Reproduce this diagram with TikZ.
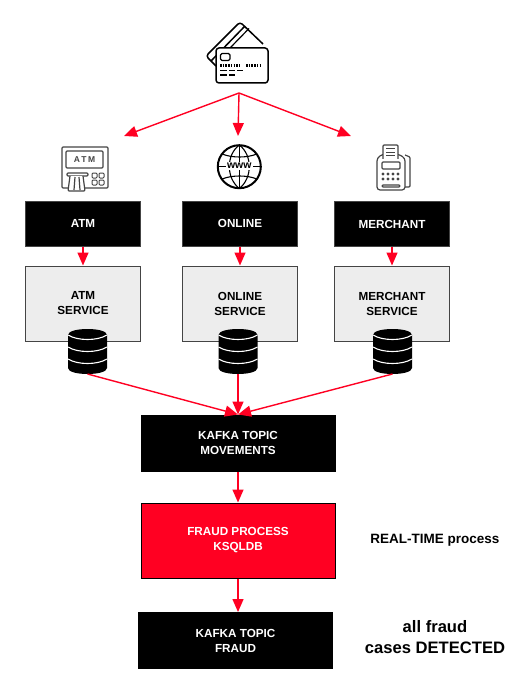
\documentclass[tikz,border=0pt]{standalone}
\usepackage{fontspec}
\setmainfont{Liberation Sans}
\usepackage{xcolor}
\usetikzlibrary{arrows.meta}
\definecolor{alertred}{HTML}{FF0022}
\definecolor{panelgray}{HTML}{EDEDED}
\definecolor{edgegray}{HTML}{444444}
\tikzstyle{source} = [rectangle, draw=edgegray, fill=black, text=white, text centered, line width=1pt, minimum width=115pt, minimum height=45pt, font=\fontsize{11.7}{15}\selectfont\bfseries]
\tikzstyle{service} = [rectangle, draw=edgegray, fill=panelgray, text=black, text centered, align=center, line width=1pt, minimum width=115pt, minimum height=75pt, font=\fontsize{11.7}{15}\selectfont\bfseries]
\tikzstyle{topic} = [rectangle, draw=black, fill=black, text=white, text centered, align=center, line width=1pt, minimum width=194pt, minimum height=56pt, font=\fontsize{11.7}{15}\selectfont\bfseries]
\tikzstyle{fraud} = [topic, fill=alertred, minimum height=75pt]
\tikzstyle{line} = [draw=alertred, line width=1.4pt, -{Triangle[length=13pt,width=11pt]}]
\tikzstyle{icon} = [draw=black, line width=1.5pt, line join=round, rounded corners=1.5pt]
\tikzstyle{grayicon} = [draw=edgegray, line width=1.2pt, line join=round, rounded corners=1pt]
\newcommand{\dbstack}[2]{%
\begin{scope}[shift={(#1,329)}]
\fill [black] (-19.5,6) .. controls (-19.5,-2) and (19.5,-2) .. (19.5,6) -- (19.5,39) .. controls (19.5,47) and (-19.5,47) .. (-19.5,39) -- cycle;
\foreach \y in {6,18,30}
\draw [white, line width=1.1pt] (-19.5,\y) .. controls (-10,\y+6) and (10,\y+6) .. (19.5,\y);
\coordinate (#2) at (0,45);
\end{scope}}

\begin{document}
\begin{tikzpicture}[x=1pt,y=-1pt]
\useasboundingbox (0,0) rectangle (527,687);
\draw [icon, rounded corners=3pt] (216,66) -- (206,56) -- (240,22) -- (263,44);
\draw [icon] (211,61) -- (244.5,26.5);
\draw [icon, line width=1.2pt] (230,48) -- (249,28.5);
\draw [icon, fill=white, rounded corners=3pt] (216,48) rectangle (268,83);
\draw [icon, line width=1.2pt] (220.5,53.5) rectangle (230,60.5);
\draw [black, line width=3pt, dash pattern=on 1.6pt off 1.1pt] (220,65.5) -- (239,65.5);
\draw [black, line width=3pt, dash pattern=on 1.6pt off 1.1pt] (246,65.5) -- (260,65.5);
\draw [black, line width=1.3pt] (220,70.5) -- (227,70.5) (229,70.5) -- (235,70.5) (237,70.5) -- (243,70.5);
\draw [black, line width=1.3pt] (220,75) -- (227,75) (229,75) -- (235,75);

\draw [grayicon] (62,147) rectangle (108,188);
\draw [grayicon, fill=white] (66,151) rectangle (103,168);
\node [text=edgegray, font=\fontsize{8.5}{9}\selectfont\bfseries] (atmscreen) at (84.5,159.5) {A\,T\,M};
\draw [grayicon, fill=white] (67,173) rectangle (88,176);
\draw [grayicon, fill=white] (70,176) -- (68,191) -- (85,191) -- (83,176);
\draw [grayicon] (75,177) -- (74,190) (79,177) -- (80,190);
\foreach \kx in {92,99}
\foreach \ky in {173,180}
\draw [grayicon, line width=1pt] (\kx,\ky) rectangle ++(5,5);

\draw [black, line width=2pt] (239.3,166.7) circle [radius=21.5pt];
\draw [black, line width=1.1pt] (239.3,145) -- (239.3,188.5);
\draw [black, line width=1.1pt] (239.3,145) .. controls (226,155) and (226,178) .. (239.3,188.5);
\draw [black, line width=1.1pt] (239.3,145) .. controls (252.6,155) and (252.6,178) .. (239.3,188.5);
\draw [black, line width=1.1pt] (222,154) .. controls (232,158) and (247,158) .. (257,154);
\draw [black, line width=1.1pt] (222,179) .. controls (232,175) and (247,175) .. (257,179);
\draw [black, line width=1.1pt] (218,166.7) -- (261,166.7);
\node [fill=white, inner sep=1pt, font=\fontsize{10.5}{11}\selectfont\bfseries] (wwwlabel) at (239.3,166) {www};

\draw [grayicon, fill=white] (405,155) -- (410,157) -- (410,187) -- (405,187);
\draw [grayicon, fill=white, rounded corners=3pt] (377,190) -- (377,158) -- (383,154) -- (398,154) -- (405,158) -- (405,190) -- cycle;
\draw [grayicon, fill=white] (383,159) -- (383,145) -- (398,145) -- (398,159);
\draw [grayicon, line width=1pt] (386,149) -- (395,149) (386,152.5) -- (395,152.5) (386,156) -- (395,156);
\draw [grayicon] (382,162) rectangle (400,169);
\foreach \kx in {383,388,393,398}
\foreach \ky in {174,179}
\fill [edgegray] (\kx,\ky) circle [radius=1.6pt];
\draw [grayicon] (382,185) rectangle (400,187);

\node [source] (atm) at (83,223.5) {ATM};
\node [source] (online) at (240,223.5) {ONLINE};
\node [source] (merchant) at (392,224) {MERCHANT};
\node [service] (atmservice) at (83,303.5) {ATM\\SERVICE};
\node [service] (onlineservice) at (240,303.5) {ONLINE\\SERVICE};
\node [service] (merchantservice) at (392,303.5) {MERCHANT\\SERVICE};
\dbstack{87.5}{dbatm}
\dbstack{238}{dbonline}
\dbstack{392.5}{dbmerchant}
\node [topic] (movements) at (238,443) {KAFKA TOPIC\\MOVEMENTS};
\node [fraud] (ksqldb) at (238,540.5) {FRAUD PROCESS\\KSQLDB};
\node [topic] (fraudtopic) at (235.5,640.5) {KAFKA TOPIC\\FRAUD};
\node [font=\fontsize{13.5}{16}\selectfont\bfseries] (realtime) at (435,540) {REAL-TIME process};
\node [align=center, font=\fontsize{16.6}{21}\selectfont\bfseries] (detected) at (435,637.5) {all fraud\\cases DETECTED};

\coordinate (fan) at (239,93);
\coordinate (tipatm) at (124,136);
\coordinate (tiponline) at (238,136);
\coordinate (tipmerchant) at (351,136);
\path [line] (fan) -- (tipatm);
\path [line] (fan) -- (tiponline);
\path [line] (fan) -- (tipmerchant);
\path [line] (atm) -- (atmservice);
\path [line] (online) -- (onlineservice);
\path [line] (merchant) -- (merchantservice);
\path [line] (dbatm) -- (movements.north);
\path [line] (dbonline) -- (movements.north);
\path [line] (dbmerchant) -- (movements.north);
\path [line] (movements) -- (ksqldb);
\path [line] (ksqldb.south) -- (ksqldb.south |- fraudtopic.north);
\end{tikzpicture}
\end{document}
